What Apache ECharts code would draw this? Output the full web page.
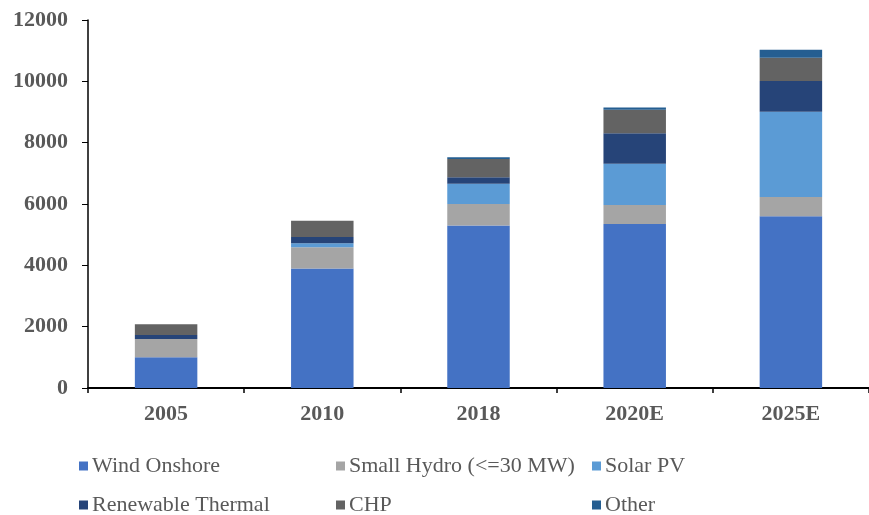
<!DOCTYPE html>
<html>
<head>
<meta charset="utf-8">
<script src="https://cdn.jsdelivr.net/npm/echarts@6/dist/echarts.min.js"></script>
<style>
  html, body { margin: 0; padding: 0; background: #fff; }
  #chart { width: 869px; height: 515px; }
</style>
</head>
<body>
<div id="chart"></div>
<script>
// categories and stacked values (MW)
var years = ["2005", "2010", "2018", "2020E", "2025E"];
var windOnshore = [1000, 3900, 5300, 5350, 5600];
var smallHydro = [600, 690, 700, 620, 630];
var solarPV = [0, 130, 660, 1340, 2780];
var renewableThermal = [130, 200, 210, 1000, 1000];
var chp = [350, 530, 600, 760, 760];
var other = [0, 0, 55, 75, 260];

var names = ["Wind Onshore", "Small Hydro (<=30 MW)", "Solar PV", "Renewable Thermal", "CHP", "Other"];
var colors = ["#4472C4", "#A5A5A5", "#5B9BD5", "#264478", "#636363", "#255E91"];
var values = [windOnshore, smallHydro, solarPV, renewableThermal, chp, other];

var chart = echarts.init(document.getElementById("chart"));

var font = "'Liberation Serif', 'Times New Roman', serif";

// legend: one component per item so the columns line up like the original
var legendPos = [
  { left: 74, top: 450 }, { left: 331, top: 450 }, { left: 587, top: 450 },
  { left: 74, top: 489 }, { left: 331, top: 489 }, { left: 587, top: 489 }
];
var legends = names.map(function (n, i) {
  return {
    data: [n],
    left: legendPos[i].left,
    top: legendPos[i].top,
    itemWidth: 9,
    itemHeight: 9,
    itemGap: 0,
    icon: "rect",
    selectedMode: false,
    textStyle: { fontFamily: font, fontSize: 22, color: "#595959", padding: [0, 0, 0, -1] }
  };
});

chart.setOption({
  animation: false,
  color: colors,
  legend: legends,
  grid: { left: 88, right: -9, top: 20, bottom: 127 },
  xAxis: {
    type: "category",
    data: years,
    axisLine: { lineStyle: { color: "#000", width: 2 } },
    axisTick: { show: true, length: 5, lineStyle: { color: "#000", width: 1.5 } },
    axisLabel: { fontFamily: font, fontSize: 22, fontWeight: "bold", color: "#595959", margin: 15 }
  },
  yAxis: {
    type: "value",
    min: 0,
    max: 12000,
    interval: 2000,
    splitLine: { show: false },
    axisLine: { show: true, lineStyle: { color: "#000", width: 1.5 } },
    axisTick: { show: true, length: 6, lineStyle: { color: "#000", width: 1 } },
    axisLabel: {
      fontFamily: font, fontSize: 22, fontWeight: "bold", color: "#595959", margin: 20,
      formatter: function (v) { return String(v); }
    }
  },
  series: names.map(function (n, i) {
    return {
      name: n,
      type: "bar",
      stack: "total",
      barWidth: "40%",
      data: values[i],
      itemStyle: { color: colors[i] }
    };
  })
});
</script>
</body>
</html>
